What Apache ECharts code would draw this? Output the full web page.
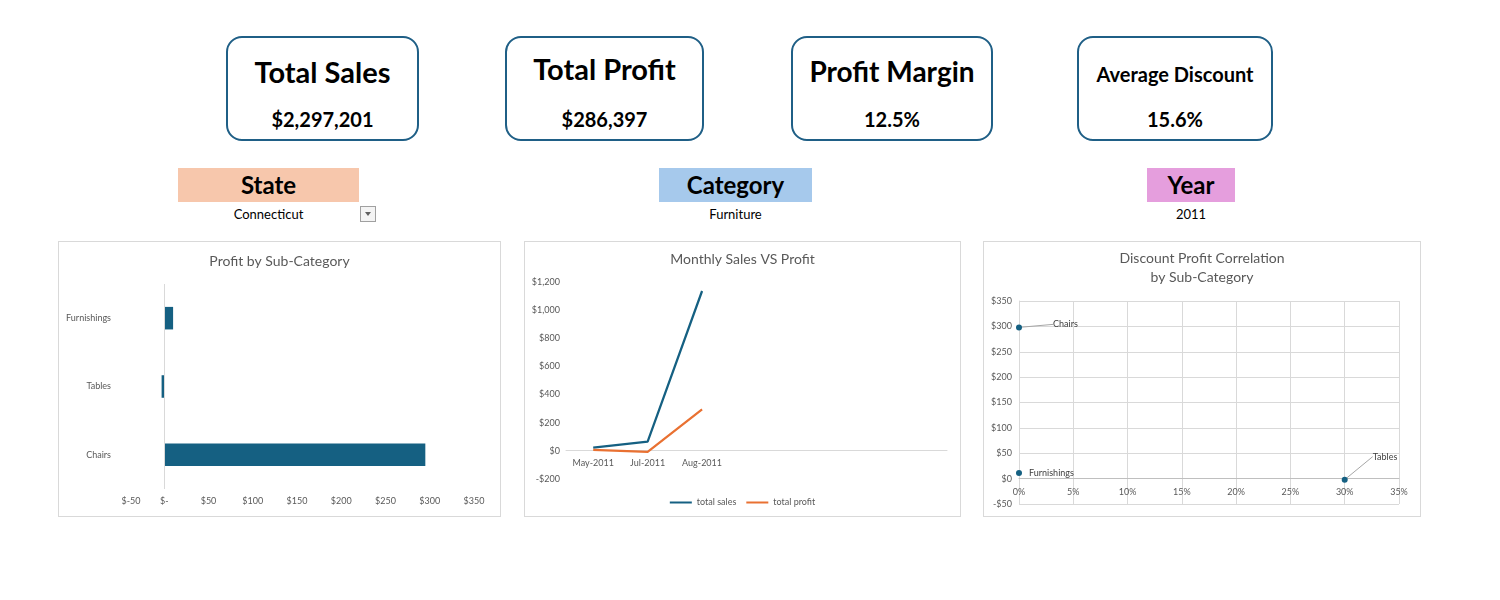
<!DOCTYPE html>
<html>
<head>
<meta charset="utf-8">
<script src="https://cdn.jsdelivr.net/npm/echarts@6/dist/echarts.min.js"></script>
<style>
  body { margin: 0; background: #fff; font-family: Lato, "Noto Sans", sans-serif; }
  #page { position: relative; width: 1500px; height: 600px; }
  .card { position: absolute; top: 36px; height: 105px; box-sizing: border-box;
          border: 2px solid #1f5f86; border-radius: 16px; }
  .card .t { position: absolute; left: 0; right: 0; text-align: center; font-weight: bold; color: #000; line-height: 1.2; }
  .card .v { position: absolute; left: 0; right: 0; top: 69px; text-align: center; font-weight: bold;
             font-size: 20px; line-height: 24px; color: #000; }
  .slicer { position: absolute; top: 168px; height: 34px; line-height: 34px; text-align: center;
            font-weight: bold; font-size: 24px; color: #000; }
  .sel { position: absolute; top: 206px; font-size: 13px; color: #000; text-align: center; }
  .drop { position: absolute; left: 360px; top: 206px; width: 14px; height: 14px; border: 1px solid #a0a0a0; background: #f4f4f4; }
  .drop:after { content: ""; position: absolute; left: 4px; top: 5px; border-left: 3px solid transparent;
                border-right: 3px solid transparent; border-top: 4px solid #606060; }
  .box { position: absolute; top: 241px; height: 276px; box-sizing: border-box; border: 1px solid #d9d9d9; }
</style>
</head>
<body>
<div id="page">
  <div class="card" style="left:226px;width:193px"><div class="t" style="top:17px;font-size:29px">Total Sales</div><div class="v">$2,297,201</div></div>
  <div class="card" style="left:505px;width:199px"><div class="t" style="top:14px;font-size:29px">Total Profit</div><div class="v">$286,397</div></div>
  <div class="card" style="left:791px;width:202px"><div class="t" style="top:17px;font-size:28px">Profit Margin</div><div class="v">12.5%</div></div>
  <div class="card" style="left:1077px;width:196px"><div class="t" style="top:24px;font-size:20px">Average Discount</div><div class="v">15.6%</div></div>

  <div class="slicer" style="left:178px;width:181px;background:#f7c7ac">State</div>
  <div class="sel" style="left:178px;width:181px">Connecticut</div>
  <div class="drop"></div>
  <div class="slicer" style="left:659px;width:153px;background:#a6c9ec">Category</div>
  <div class="sel" style="left:659px;width:153px">Furniture</div>
  <div class="slicer" style="left:1147px;width:88px;background:#e59edd">Year</div>
  <div class="sel" style="left:1147px;width:88px">2011</div>

  <div id="c1" class="box" style="left:58px;width:443px"></div>
  <div id="c2" class="box" style="left:524px;width:437px"></div>
  <div id="c3" class="box" style="left:983px;width:438px"></div>
</div>
<script>
// profit by sub-category
const subCats = ['Chairs', 'Tables', 'Furnishings'];
const subProfit = [295, -3, 10];

// monthly sales vs profit
const months = ['May-2011', 'Jul-2011', 'Aug-2011'];
const totalSales = [23, 66, 1136];
const totalProfit = [7, -7, 294];
const emptySlots = 4;

// discount vs profit
const scatterNames = ['Chairs', 'Furnishings', 'Tables'];
const avgDiscount = [0, 0, 0.30];
const scatterProfit = [298, 11, -2];

const grey = '#595959';
const blue = '#156082';
const orange = '#e97132';
const font = 'Lato';

function money(v) {
    let s = '$' + Math.abs(v).toLocaleString('en-US');
    return v < 0 ? '-' + s : s;
}

// distance from the bottom of the plot to the zero line (axis sits on zero like in excel)
function zeroOffset(plotH, min, max) {
    return -plotH * (0 - min) / (max - min);
}

// chart 1
let c1 = echarts.init(document.getElementById('c1'));
c1.setOption({
    textStyle: { fontFamily: font },
    title: { text: 'Profit by Sub-Category', left: 'center', top: 7,
             textStyle: { fontSize: 14, fontWeight: 'normal', color: grey, fontFamily: font } },
    grid: { left: 61, right: 26, top: 42, bottom: 27, outerBoundsMode: 'none' },
    xAxis: {
        type: 'value', min: -50, max: 350, interval: 50,
        splitLine: { show: false }, axisLine: { show: false }, axisTick: { show: false },
        axisLabel: { fontSize: 9, color: grey, margin: 8,
            formatter: v => v === 0 ? '$-' : (v < 0 ? '{n|$' + v + '}' : '$' + v),
            rich: { n: { fontSize: 9, color: grey, padding: [0, 0, 0, 22] } } }
    },
    yAxis: {
        type: 'category', data: subCats,
        axisLine: { show: false }, axisTick: { show: false },
        axisLabel: { fontSize: 9, color: grey, margin: 9 }
    },
    series: [{
        type: 'bar', data: subProfit, barWidth: '33%',
        itemStyle: { color: blue },
        markLine: { silent: true, symbol: 'none', label: { show: false },
                    lineStyle: { color: '#d9d9d9', type: 'solid', width: 1 },
                    data: [{ xAxis: 0 }] }
    }]
});

// chart 2
let cats = months.concat(new Array(emptySlots).fill(''));
let c2 = echarts.init(document.getElementById('c2'));
c2.setOption({
    textStyle: { fontFamily: font },
    title: { text: 'Monthly Sales VS Profit', left: 'center', top: 5,
             textStyle: { fontSize: 14, fontWeight: 'normal', color: grey, fontFamily: font } },
    grid: { left: 41, right: 13, top: 40, bottom: 37, outerBoundsMode: 'none' },
    legend: { bottom: 4, icon: 'rect', itemWidth: 22, itemHeight: 2, itemGap: 10,
              textStyle: { fontSize: 9, color: grey } },
    xAxis: {
        type: 'category', data: cats, boundaryGap: true,
        offset: zeroOffset(276 - 40 - 37, -200, 1200),
        axisTick: { show: false },
        axisLine: { onZero: false, lineStyle: { color: '#d9d9d9' } },
        axisLabel: { fontSize: 9, color: grey, margin: 8, interval: 0 }
    },
    yAxis: {
        type: 'value', min: -200, max: 1200, interval: 200,
        splitLine: { show: false }, axisLine: { show: false }, axisTick: { show: false },
        axisLabel: { fontSize: 9, color: grey, margin: 6, formatter: money }
    },
    series: [
        { name: 'total sales', type: 'line', data: totalSales, symbol: 'none',
          lineStyle: { color: blue, width: 2.25 }, itemStyle: { color: blue } },
        { name: 'total profit', type: 'line', data: totalProfit, symbol: 'none',
          lineStyle: { color: orange, width: 2.25 }, itemStyle: { color: orange } }
    ]
});

// chart 3
let labelShift = { Chairs: [26, -3], Furnishings: [2, 0], Tables: [20, -23] };
let points = scatterNames.map((n, i) => ({
    name: n, value: [avgDiscount[i], scatterProfit[i]],
    labelLine: { show: n !== 'Furnishings' }
}));
let c3 = echarts.init(document.getElementById('c3'));
c3.setOption({
    textStyle: { fontFamily: font },
    title: { text: 'Discount Profit Correlation\nby Sub-Category', left: 'center', top: 2,
             textStyle: { fontSize: 14, fontWeight: 'normal', color: grey, fontFamily: font, lineHeight: 19 } },
    grid: { left: 35, right: 21, top: 59, bottom: 12, outerBoundsMode: 'none' },
    xAxis: {
        type: 'value', min: 0, max: 0.35, interval: 0.05,
        offset: zeroOffset(276 - 59 - 12, -50, 350),
        splitLine: { lineStyle: { color: '#d9d9d9' } },
        axisLine: { onZero: false, lineStyle: { color: '#bfbfbf' } }, axisTick: { show: false },
        axisLabel: { fontSize: 9, color: grey, margin: 9, formatter: v => Math.round(v * 100) + '%' }
    },
    yAxis: {
        type: 'value', min: -50, max: 350, interval: 50,
        splitLine: { lineStyle: { color: '#d9d9d9' } },
        axisLine: { show: true, onZero: false, lineStyle: { color: '#d9d9d9' } }, axisTick: { show: false },
        axisLabel: { fontSize: 9, color: grey, margin: 7, formatter: money }
    },
    series: [{
        type: 'scatter', data: points, symbolSize: 6,
        itemStyle: { color: blue, opacity: 1 },
        label: { show: true, position: 'right', formatter: '{b}', fontSize: 9, color: '#404040' },
        labelLine: { show: true, lineStyle: { color: '#a6a6a6', width: 1 } },
        labelLayout: p => {
            let s = labelShift[scatterNames[p.dataIndex]];
            return { dx: s[0], dy: s[1] };
        }
    }]
});
</script>
</body>
</html>
